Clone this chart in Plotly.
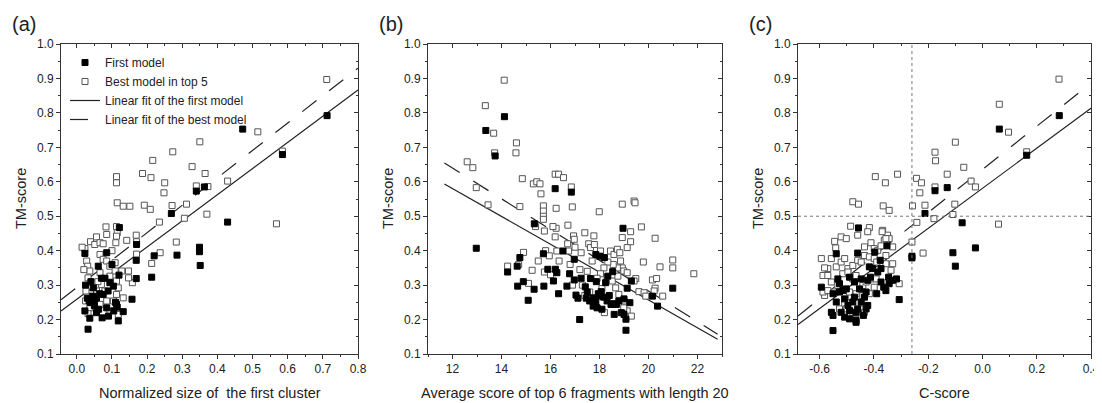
import numpy as np
import plotly.graph_objects as go

# ---------------- data ----------------
# Panel (a): Normalized size of the first cluster vs TM-score
a_first_x = [0.712,0.472,0.585,0.34,0.363,0.269,0.429,0.349,0.349,0.285,0.22,0.351,0.213,0.169,0.157,0.17,0.169,
             0.032,0.037,0.072,0.118,0.132,0.023,0.056,0.035,0.039,0.056,0.051,0.085,0.113,0.115,0.075,0.089,0.047,
             0.07,0.094,0.104,0.061,0.085,0.121,0.12,0.023,0.03,0.045,0.062,0.04,0.1,0.11,0.025,0.065,0.08,0.105,0.05,0.09]
a_first_y = [0.792,0.753,0.679,0.573,0.585,0.508,0.483,0.41,0.397,0.387,0.385,0.357,0.323,0.319,0.259,0.418,0.372,
             0.172,0.204,0.205,0.196,0.223,0.225,0.22,0.254,0.249,0.263,0.259,0.234,0.244,0.236,0.273,0.283,0.292,
             0.32,0.307,0.297,0.355,0.394,0.467,0.329,0.392,0.262,0.268,0.23,0.31,0.36,0.25,0.3,0.275,0.32,0.225,0.24,0.21]
a_best_x = [0.711,0.515,0.585,0.35,0.273,0.216,0.328,0.187,0.211,0.113,0.113,0.365,0.25,0.429,0.34,0.373,0.248,
            0.115,0.132,0.151,0.192,0.209,0.271,0.312,0.235,0.306,0.37,0.568,0.283,0.237,0.213,0.158,
            0.023,0.039,0.056,0.083,0.113,0.115,0.113,0.085,0.142,0.169,0.17,0.17,0.028,0.031,0.037,0.032,0.045,
            0.026,0.025,0.037,0.051,0.032,0.066,0.075,0.085,0.094,0.109,0.109,0.094,0.113,0.118,0.113,0.104,0.085,
            0.066,0.07,0.08,0.132,0.147,0.147,0.118,0.094,0.051,0.066,0.111,0.128,0.066,0.056,0.015,0.02,0.06,0.1,0.075]
a_best_y = [0.897,0.745,0.689,0.716,0.687,0.662,0.644,0.624,0.612,0.615,0.597,0.624,0.597,0.602,0.588,0.586,0.568,
            0.539,0.529,0.529,0.532,0.52,0.531,0.535,0.483,0.494,0.506,0.478,0.425,0.394,0.363,0.307,
            0.406,0.426,0.44,0.469,0.47,0.452,0.442,0.447,0.43,0.445,0.426,0.39,0.37,0.355,0.341,0.321,0.307,
            0.283,0.254,0.234,0.242,0.217,0.389,0.375,0.37,0.355,0.365,0.341,0.326,0.312,0.292,0.273,0.254,0.254,
            0.244,0.302,0.283,0.263,0.341,0.321,0.215,0.225,0.418,0.423,0.423,0.341,0.336,0.283,0.41,0.345,0.31,0.4,0.42]

# Panel (b): Average score of top 6 fragments with length 20 vs TM-score
b_first_x = [14.12,13.36,13.74,16.19,16.85,12.97,14.25,14.64,14.75,14.66,14.89,15.09,15.33,15.73,15.71,15.89,16.12,
             16.2,16.26,16.33,16.51,16.67,16.78,16.97,16.97,17.04,17.19,17.25,17.12,17.42,17.46,17.6,17.74,17.76,
             17.85,17.9,17.97,17.63,17.87,17.85,18.01,18.07,18.17,18.31,18.47,18.58,18.69,18.79,18.89,19.0,19.08,
             19.08,18.34,18.25,18.54,18.96,19.13,19.3,19.24,20.37,20.16,20.99,15.34,18.2,17.95,18.1,18.6,17.5,18.4,19.0]
b_first_y = [0.789,0.749,0.675,0.58,0.57,0.407,0.338,0.355,0.38,0.297,0.31,0.256,0.288,0.297,0.391,0.346,0.312,
             0.346,0.336,0.275,0.399,0.297,0.333,0.315,0.375,0.271,0.2,0.32,0.262,0.295,0.262,0.254,0.239,0.263,
             0.249,0.234,0.268,0.319,0.31,0.389,0.384,0.281,0.265,0.254,0.244,0.246,0.244,0.254,0.22,0.215,0.201,
             0.169,0.326,0.307,0.339,0.465,0.291,0.312,0.249,0.239,0.268,0.291,0.478,0.38,0.275,0.23,0.215,0.28,0.27,0.26]
b_best_x = [14.11,13.34,13.68,13.72,14.61,14.59,12.6,12.83,12.97,14.85,15.3,15.44,15.57,15.61,16.19,16.33,16.53,16.85,19.41,
            13.45,14.75,15.71,15.71,15.71,15.71,16.23,16.89,18.93,19.45,17.99,19.71,20.27,15.39,15.75,16.23,16.71,16.19,
            16.94,16.97,17.4,17.77,18.93,19.27,16.26,16.74,17.25,17.56,17.63,17.79,18.04,18.45,18.59,18.73,18.83,19.13,
            19.27,18.86,18.93,19.79,20.47,20.99,20.99,21.85,20.16,20.33,20.27,20.58,20.23,19.61,19.82,19.89,19.48,19.41,
            18.99,19.13,18.73,18.56,18.34,18.18,18.04,18.31,18.52,18.75,18.66,18.79,19.0,19.13,19.3,18.99,
            14.25,14.7,15.1,14.9,15.25,15.5,15.8,15.75,16.0,16.35,16.8,16.9,17.0,17.2,17.5,17.3,17.6,17.7,17.4,17.9,
            18.1,18.2,17.8,16.7,15.95,16.1]
b_best_y = [0.895,0.821,0.741,0.684,0.713,0.684,0.658,0.641,0.583,0.609,0.594,0.6,0.594,0.565,0.622,0.622,0.612,0.585,0.544,
            0.533,0.528,0.53,0.515,0.5,0.491,0.523,0.527,0.535,0.539,0.513,0.469,0.436,0.47,0.457,0.465,0.474,0.44,
            0.443,0.433,0.452,0.443,0.438,0.455,0.399,0.399,0.394,0.42,0.409,0.418,0.399,0.399,0.389,0.404,0.394,0.409,
            0.426,0.37,0.35,0.367,0.353,0.373,0.35,0.333,0.315,0.319,0.291,0.268,0.283,0.281,0.278,0.268,0.319,0.312,
            0.341,0.336,0.35,0.36,0.367,0.35,0.333,0.321,0.312,0.326,0.292,0.273,0.254,0.225,0.21,0.234,
            0.355,0.36,0.305,0.395,0.343,0.37,0.4,0.338,0.33,0.37,0.36,0.3,0.41,0.345,0.34,0.3,0.28,0.37,0.27,0.32,
            0.29,0.22,0.245,0.42,0.385,0.47]

# Panel (c): C-score vs TM-score
c_first_x = [0.283,0.062,0.163,-0.175,-0.13,-0.212,-0.075,-0.26,-0.26,-0.109,-0.026,-0.1,-0.307,-0.551,
             -0.457,-0.539,-0.46,-0.352,-0.594,-0.413,-0.417,-0.386,-0.374,-0.364,-0.344,-0.331,-0.346,-0.356,
             -0.39,-0.317,-0.49,-0.472,-0.502,-0.515,-0.527,-0.539,-0.508,-0.496,-0.478,-0.472,-0.46,-0.447,
             -0.435,-0.423,-0.429,-0.453,-0.521,-0.508,-0.49,-0.466,-0.466,-0.49,-0.439,-0.429,-0.466,-0.557,
             -0.551,-0.527,-0.551,-0.533,-0.423,-0.405,-0.447,-0.377,-0.397,-0.374]
c_first_y = [0.792,0.753,0.677,0.574,0.583,0.508,0.481,0.384,0.379,0.394,0.408,0.355,0.258,0.168,
             0.466,0.391,0.393,0.414,0.294,0.323,0.353,0.338,0.309,0.294,0.304,0.314,0.323,0.284,
             0.275,0.318,0.323,0.309,0.289,0.284,0.304,0.251,0.26,0.241,0.251,0.265,0.231,0.251,
             0.265,0.241,0.28,0.289,0.221,0.207,0.202,0.197,0.221,0.226,0.212,0.231,0.192,0.221,
             0.212,0.28,0.275,0.318,0.314,0.348,0.318,0.372,0.396,0.348]
c_best_x = [0.282,0.062,0.096,0.163,-0.1,-0.175,-0.173,-0.069,-0.13,-0.042,-0.026,-0.175,-0.395,-0.358,-0.313,
            -0.243,-0.225,-0.231,-0.478,-0.457,-0.366,-0.344,-0.258,-0.212,-0.102,-0.242,-0.179,-0.109,0.059,
            -0.26,-0.219,-0.307,
            -0.486,-0.417,-0.423,-0.545,-0.541,-0.521,-0.502,-0.46,-0.368,-0.35,-0.362,-0.344,-0.411,-0.435,
            -0.399,-0.386,-0.374,-0.594,-0.557,-0.57,-0.539,-0.521,-0.508,-0.496,-0.478,-0.46,-0.447,-0.435,
            -0.417,-0.399,-0.39,-0.356,-0.331,-0.337,-0.588,-0.57,-0.557,-0.582,-0.588,-0.57,-0.545,-0.533,
            -0.515,-0.496,-0.478,-0.466,-0.453,-0.441,-0.429,-0.411,-0.392,-0.399,-0.417,-0.441,-0.466,-0.484,
            -0.49,-0.508,-0.527,-0.502,-0.478,-0.466,-0.447,-0.435,-0.356,-0.37,-0.356,-0.331,-0.582]
c_best_y = [0.898,0.825,0.744,0.687,0.715,0.686,0.661,0.642,0.622,0.602,0.585,0.585,0.615,0.597,0.622,
            0.61,0.597,0.568,0.542,0.535,0.53,0.517,0.53,0.532,0.535,0.482,0.493,0.505,0.477,
            0.425,0.393,0.304,
            0.471,0.467,0.455,0.427,0.408,0.44,0.435,0.445,0.459,0.445,0.43,0.435,0.423,0.411,
            0.406,0.401,0.414,0.377,0.377,0.348,0.353,0.367,0.377,0.348,0.357,0.372,0.367,0.386,
            0.382,0.377,0.367,0.362,0.362,0.343,0.328,0.328,0.309,0.27,0.28,0.284,0.28,0.299,
            0.333,0.338,0.318,0.328,0.304,0.299,0.309,0.318,0.318,0.294,0.275,0.27,0.275,0.265,
            0.28,0.246,0.231,0.231,0.221,0.217,0.231,0.221,0.435,0.455,0.386,0.411,0.35]

# Linear fits: [slope, intercept, x_start, x_end]
a_fit_first = [0.759, 0.259, -0.045, 0.8]
a_fit_best = [0.796, 0.293, -0.045, 0.8]
b_fit_first = [-0.0404, 1.065, 11.67, 22.82]
b_fit_best = [-0.0446, 1.175, 11.67, 22.82]
c_fit_first = [0.581, 0.581, -0.68, 0.4]
c_fit_best = [0.626, 0.636, -0.68, 0.4]

# Thresholds in (c)
c_cut_x = -0.26
c_cut_y = 0.5

# Axis tick settings
y_ticks = [0.1, 0.2, 0.3, 0.4, 0.5, 0.6, 0.7, 0.8, 0.9, 1.0]
y_ticktext = ["0.1", "0.2", "0.3", "0.4", "0.5", "0.6", "0.7", "0.8", "0.9", "1.0"]
a_xticks = [0.0, 0.1, 0.2, 0.3, 0.4, 0.5, 0.6, 0.7, 0.8]
a_xticktext = ["0.0", "0.1", "0.2", "0.3", "0.4", "0.5", "0.6", "0.7", "0.8"]
b_xticks = [12, 14, 16, 18, 20, 22]
b_xticktext = ["12", "14", "16", "18", "20", "22"]
c_xticks = [-0.6, -0.4, -0.2, 0.0, 0.2, 0.4]
c_xticktext = ["-0.6", "-0.4", "-0.2", "0.0", "0.2", "0.4"]

# ---------------- figure ----------------
OFF = 8                      # page body margin offset
W, H = 1102 - OFF, 403 - OFF  # figure size so it ends at the window edge
FONT = "Liberation Sans, Arial, sans-serif"
TXT = "#222222"

def fx(px):
    return (px - OFF) / W

def fy(py):
    return 1 - (py - OFF) / H

top_px, bot_px = 44, 354
panels = [
    dict(dom=(61, 358), xr=[-0.045, 0.8], xt=a_xticks, xtt=a_xticktext, minor=0.05,
         fx_=a_first_x, fy_=a_first_y, bx=a_best_x, by=a_best_y, f1=a_fit_first, f2=a_fit_best,
         title="Normalized size of &nbsp;the first cluster", label="(a)"),
    dict(dom=(428, 722), xr=[11.0, 23.0], xt=b_xticks, xtt=b_xticktext, minor=1,
         fx_=b_first_x, fy_=b_first_y, bx=b_best_x, by=b_best_y, f1=b_fit_first, f2=b_fit_best,
         title="Average score of top 6 fragments with length 20", label="(b)"),
    dict(dom=(798, 1091), xr=[-0.68, 0.4], xt=c_xticks, xtt=c_xticktext, minor=0.1,
         fx_=c_first_x, fy_=c_first_y, bx=c_best_x, by=c_best_y, f1=c_fit_first, f2=c_fit_best,
         title="C-score", label="(c)"),
]

fig = go.Figure()
layout = dict(width=W, height=H, margin=dict(l=0, r=0, t=0, b=0, pad=0, autoexpand=False),
              paper_bgcolor="white", plot_bgcolor="white",
              font=dict(family=FONT, size=12, color=TXT), showlegend=True)
annotations = []
shapes = []

for i, p in enumerate(panels):
    n = i + 1
    xa, ya = f"x{n}", f"y{n}"
    xa_top, ya_right = f"x{n+3}", f"y{n+3}"
    dom_x = [fx(p["dom"][0]), fx(p["dom"][1])]
    dom_y = [fy(bot_px), fy(top_px)]
    common = dict(showgrid=False, zeroline=False, showline=True, linecolor="#333333", linewidth=1,
                  automargin=False)
    layout[f"xaxis{n}"] = dict(domain=dom_x, range=p["xr"], anchor=ya, ticks="outside", ticklen=4,
                               tickcolor="#333333", tickmode="array", tickvals=p["xt"], ticktext=p["xtt"],
                               tickfont=dict(size=12, color=TXT), ticklabeloverflow="allow",
                               minor=dict(ticks="outside", ticklen=2, tick0=0, dtick=p["minor"], tickcolor="#333333"),
                               **common)
    layout[f"yaxis{n}"] = dict(domain=dom_y, range=[0.1, 1.0], anchor=xa, ticks="outside", ticklen=4,
                               tickcolor="#333333", tickmode="array", tickvals=y_ticks, ticktext=y_ticktext,
                               tickfont=dict(size=12, color=TXT),
                               minor=dict(ticks="outside", ticklen=2, tick0=0, dtick=0.05, tickcolor="#333333"),
                               **common)
    layout[f"xaxis{n+3}"] = dict(domain=dom_x, range=p["xr"], overlaying=xa, anchor=ya, side="top",
                                 ticks="inside", ticklen=4, tickcolor="#333333", tickmode="array",
                                 tickvals=p["xt"], showticklabels=False,
                                 minor=dict(ticks="inside", ticklen=2, tick0=0, dtick=p["minor"], tickcolor="#333333"),
                                 **common)
    layout[f"yaxis{n+3}"] = dict(domain=dom_y, range=[0.1, 1.0], overlaying=ya, anchor=xa, side="right",
                                 ticks="inside", ticklen=4, tickcolor="#333333", tickmode="array",
                                 tickvals=y_ticks, showticklabels=False,
                                 minor=dict(ticks="inside", ticklen=2, tick0=0, dtick=0.05, tickcolor="#333333"),
                                 **common)
    # dummy traces to activate mirrored axes
    fig.add_trace(go.Scatter(x=[None], y=[None], xaxis=xa_top, yaxis=ya, showlegend=False, hoverinfo="skip"))
    fig.add_trace(go.Scatter(x=[None], y=[None], xaxis=xa, yaxis=ya_right, showlegend=False, hoverinfo="skip"))

    show = (i == 0)
    # fits
    for fit, dash, name, rank in [(p["f1"], "solid", "Linear fit of the first model", 3),
                                  (p["f2"], "18px,16px", "Linear fit of the best model", 4)]:
        xs = np.array([fit[2], fit[3]])
        ys = fit[0] * xs + fit[1]
        fig.add_trace(go.Scatter(x=xs, y=ys, mode="lines", xaxis=xa, yaxis=ya, name=name,
                                 line=dict(color="#222222", width=1.2, dash=dash),
                                 showlegend=show, legendrank=rank, cliponaxis=True))
    fig.add_trace(go.Scatter(x=p["bx"], y=p["by"], mode="markers", xaxis=xa, yaxis=ya,
                             name="Best model in top 5", showlegend=show, legendrank=2,
                             marker=dict(symbol="square", size=6, color="white",
                                         line=dict(color="#555555", width=1))))
    fig.add_trace(go.Scatter(x=p["fx_"], y=p["fy_"], mode="markers", xaxis=xa, yaxis=ya,
                             name="First model", showlegend=show, legendrank=1,
                             marker=dict(symbol="square", size=6, color="black",
                                         line=dict(color="black", width=1))))

    cx = (p["dom"][0] + p["dom"][1]) / 2
    annotations.append(dict(text=p["title"], x=fx(cx), y=fy(393), xref="paper", yref="paper",
                            xanchor="center", yanchor="middle", showarrow=False,
                            font=dict(size=14.5, color=TXT)))
    annotations.append(dict(text="TM-score", x=fx(p["dom"][0] - 40), y=fy((top_px + bot_px) / 2),
                            xref="paper", yref="paper", xanchor="center", yanchor="middle",
                            textangle=-90, showarrow=False, font=dict(size=14.5, color=TXT)))
    annotations.append(dict(text=p["label"], x=fx(p["dom"][0] - 51), y=fy(24), xref="paper", yref="paper",
                            xanchor="left", yanchor="middle", showarrow=False,
                            font=dict(size=20, color=TXT)))

# threshold lines in (c)
shapes.append(dict(type="line", xref="x3", yref="y3 domain", x0=c_cut_x, x1=c_cut_x, y0=0, y1=1,
                   line=dict(color="#777777", width=1, dash="dot")))
shapes.append(dict(type="line", xref="x3 domain", yref="y3", x0=0, x1=1, y0=c_cut_y, y1=c_cut_y,
                   line=dict(color="#777777", width=1, dash="dot")))

layout["annotations"] = annotations
layout["shapes"] = shapes
layout["legend"] = dict(x=fx(65), y=fy(48), xanchor="left", yanchor="top", bgcolor="rgba(0,0,0,0)",
                        borderwidth=0, font=dict(size=12, color=TXT), tracegroupgap=0,
                        itemsizing="trace")
fig.update_layout(**layout)
fig.write_html("out.html")
